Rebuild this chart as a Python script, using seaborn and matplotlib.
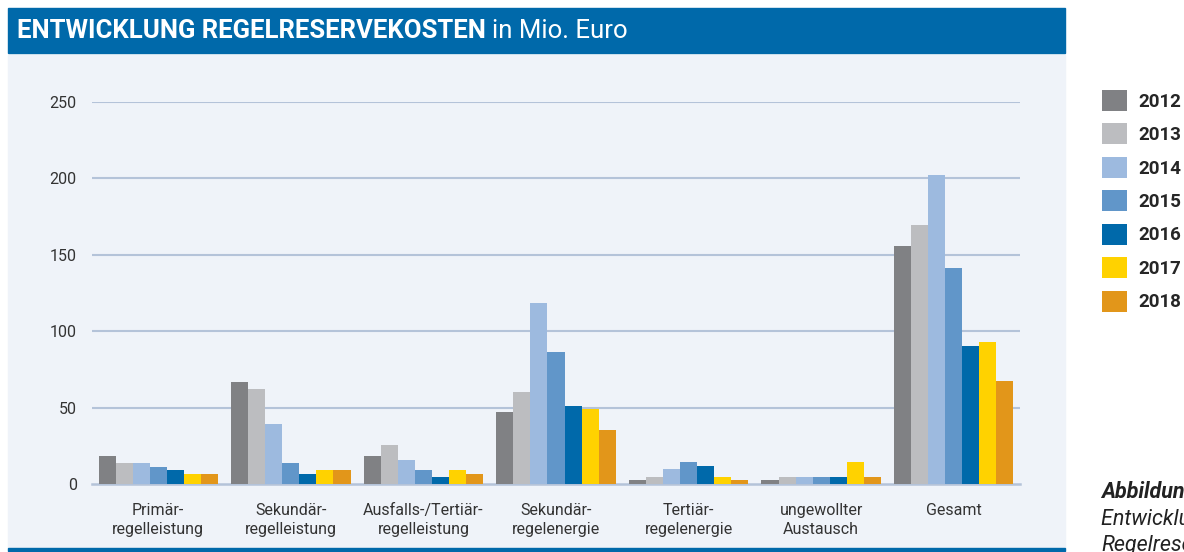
import matplotlib
matplotlib.use("Agg")
import matplotlib.pyplot as plt
from matplotlib import font_manager
from matplotlib.patches import Rectangle
import seaborn as sns
import pandas as pd

# Daten
kategorien = ["Primär-\nregelleistung", "Sekundär-\nregelleistung", "Ausfalls-/Tertiär-\nregelleistung",
              "Sekundär-\nregelenergie", "Tertiär-\nregelenergie", "ungewollter\nAustausch", "Gesamt"]
jahre = ["2012", "2013", "2014", "2015", "2016", "2017", "2018"]
w2012 = [18.5, 67.0, 18.5, 47.0, 2.6, 2.6, 155.6]
w2013 = [13.8, 62.4, 25.3, 60.4, 4.8, 4.8, 169.4]
w2014 = [13.8, 39.3, 15.9, 118.7, 9.6, 4.8, 202.4]
w2015 = [11.3, 13.8, 9.2, 86.4, 14.2, 4.8, 141.6]
w2016 = [9.2, 6.8, 4.4, 51.2, 11.8, 4.8, 90.4]
w2017 = [6.8, 9.2, 9.2, 48.9, 4.8, 14.2, 92.7]
w2018 = [6.8, 9.2, 6.8, 35.1, 2.6, 4.8, 67.5]
farben = ["#808184", "#bcbdc0", "#9dbadf", "#6196c9", "#0069aa", "#ffd200", "#e2961a"]
y_ticks = [0, 50, 100, 150, 200, 250]

werte = [w2012, w2013, w2014, w2015, w2016, w2017, w2018]
rows = []
for jahr, reihe in zip(jahre, werte):
    for kat, v in zip(kategorien, reihe):
        rows.append({"kategorie": kat, "jahr": jahr, "wert": v})
df = pd.DataFrame(rows)

sns.set_style("white")
installed = {f.name for f in font_manager.fontManager.ttflist}
fam = ["Liberation Sans Narrow"] if "Liberation Sans Narrow" in installed else ["Roboto"]
plt.rcParams["font.family"] = fam + ["DejaVu Sans"]

W, H = 1184, 552
fig = plt.figure(figsize=(W / 100, H / 100), dpi=100)

def px(x0, y0, x1, y1):
    return (x0 / W, 1 - y1 / H, (x1 - x0) / W, (y1 - y0) / H)

# Hintergrund-Panel, Kopfband, untere Linie
for box, c in [((8, 55, 1065, 548), "#eff3f9"), ((8, 8, 1065, 53), "#0069aa"),
               ((8, 548, 1065, 551), "#0069aa")]:
    l, b, w, h = px(*box)
    fig.patches.append(Rectangle((l, b), w, h, transform=fig.transFigure, color=c, zorder=-5))

ax = fig.add_axes(px(92, 102, 1020, 484))
ax.set_zorder(2)
ax.set_facecolor("none")
sns.barplot(data=df, x="kategorie", y="wert", hue="jahr", palette=farben, width=0.9,
            saturation=1, ax=ax, legend=True, zorder=3, linewidth=0, edgecolor="none")

ax.set_xlim(-0.5, 6.5)
ax.set_ylim(0, 250)
ax.set_yticks(y_ticks)
ax.set_xlabel("")
ax.set_ylabel("")
grid_c = "#b4c3d9"
for t in y_ticks[1:]:
    ax.axhline(t, color=grid_c, lw=1.5, zorder=1)
for s in ["top", "right", "left"]:
    ax.spines[s].set_visible(False)
ax.spines["bottom"].set_color(grid_c)
ax.spines["bottom"].set_linewidth(1.8)
ax.set_xticks([i - 0.5 for i in range(8)], minor=True)
ax.tick_params(axis="x", which="minor", length=8, width=1.5, color=grid_c, direction="out")
ax.tick_params(axis="x", which="major", length=0, pad=14, labelsize=11.5, labelcolor="#333333")
ax.tick_params(axis="y", length=0, pad=11, labelsize=11.5, labelcolor="#333333")
for lab in ax.get_xticklabels():
    lab.set_linespacing(1.3)

# Legende
handles, labels = ax.get_legend_handles_labels()
ax.get_legend().remove()
fig.legend(handles, labels, loc="upper left", bbox_to_anchor=(1102 / W, 1 - 90 / H),
           frameon=False, handlelength=1.35, handleheight=1.35,
           labelspacing=0.66, handletextpad=0.6, borderaxespad=0, borderpad=0,
           prop={"weight": "bold", "size": 13.5})

# Titel
t1 = fig.text(17 / W, 1 - 31 / H, "ENTWICKLUNG REGELRESERVEKOSTEN", color="white",
              fontsize=18.5, fontweight="bold", va="center", ha="left")
fig.canvas.draw()
bb = t1.get_window_extent()
fig.text(bb.x1 / W + 6 / W, 1 - 31 / H, "in Mio. Euro", color="white",
         fontsize=18.5, va="center", ha="left")

# Bildunterschrift (rechts abgeschnitten wie im Original)
fig.text(1101 / W, 1 - 492 / H, "Abbildung 6:", fontsize=15.5, fontweight="bold",
         fontstyle="italic", color="#222222", va="center")
fig.text(1101 / W, 1 - 520 / H, "Entwicklung der", fontsize=15.5,
         fontstyle="italic", color="#222222", va="center")
fig.text(1101 / W, 1 - 546 / H, "Regelreservekosten", fontsize=15.5,
         fontstyle="italic", color="#222222", va="center")

fig.savefig("out.png", dpi=100)
